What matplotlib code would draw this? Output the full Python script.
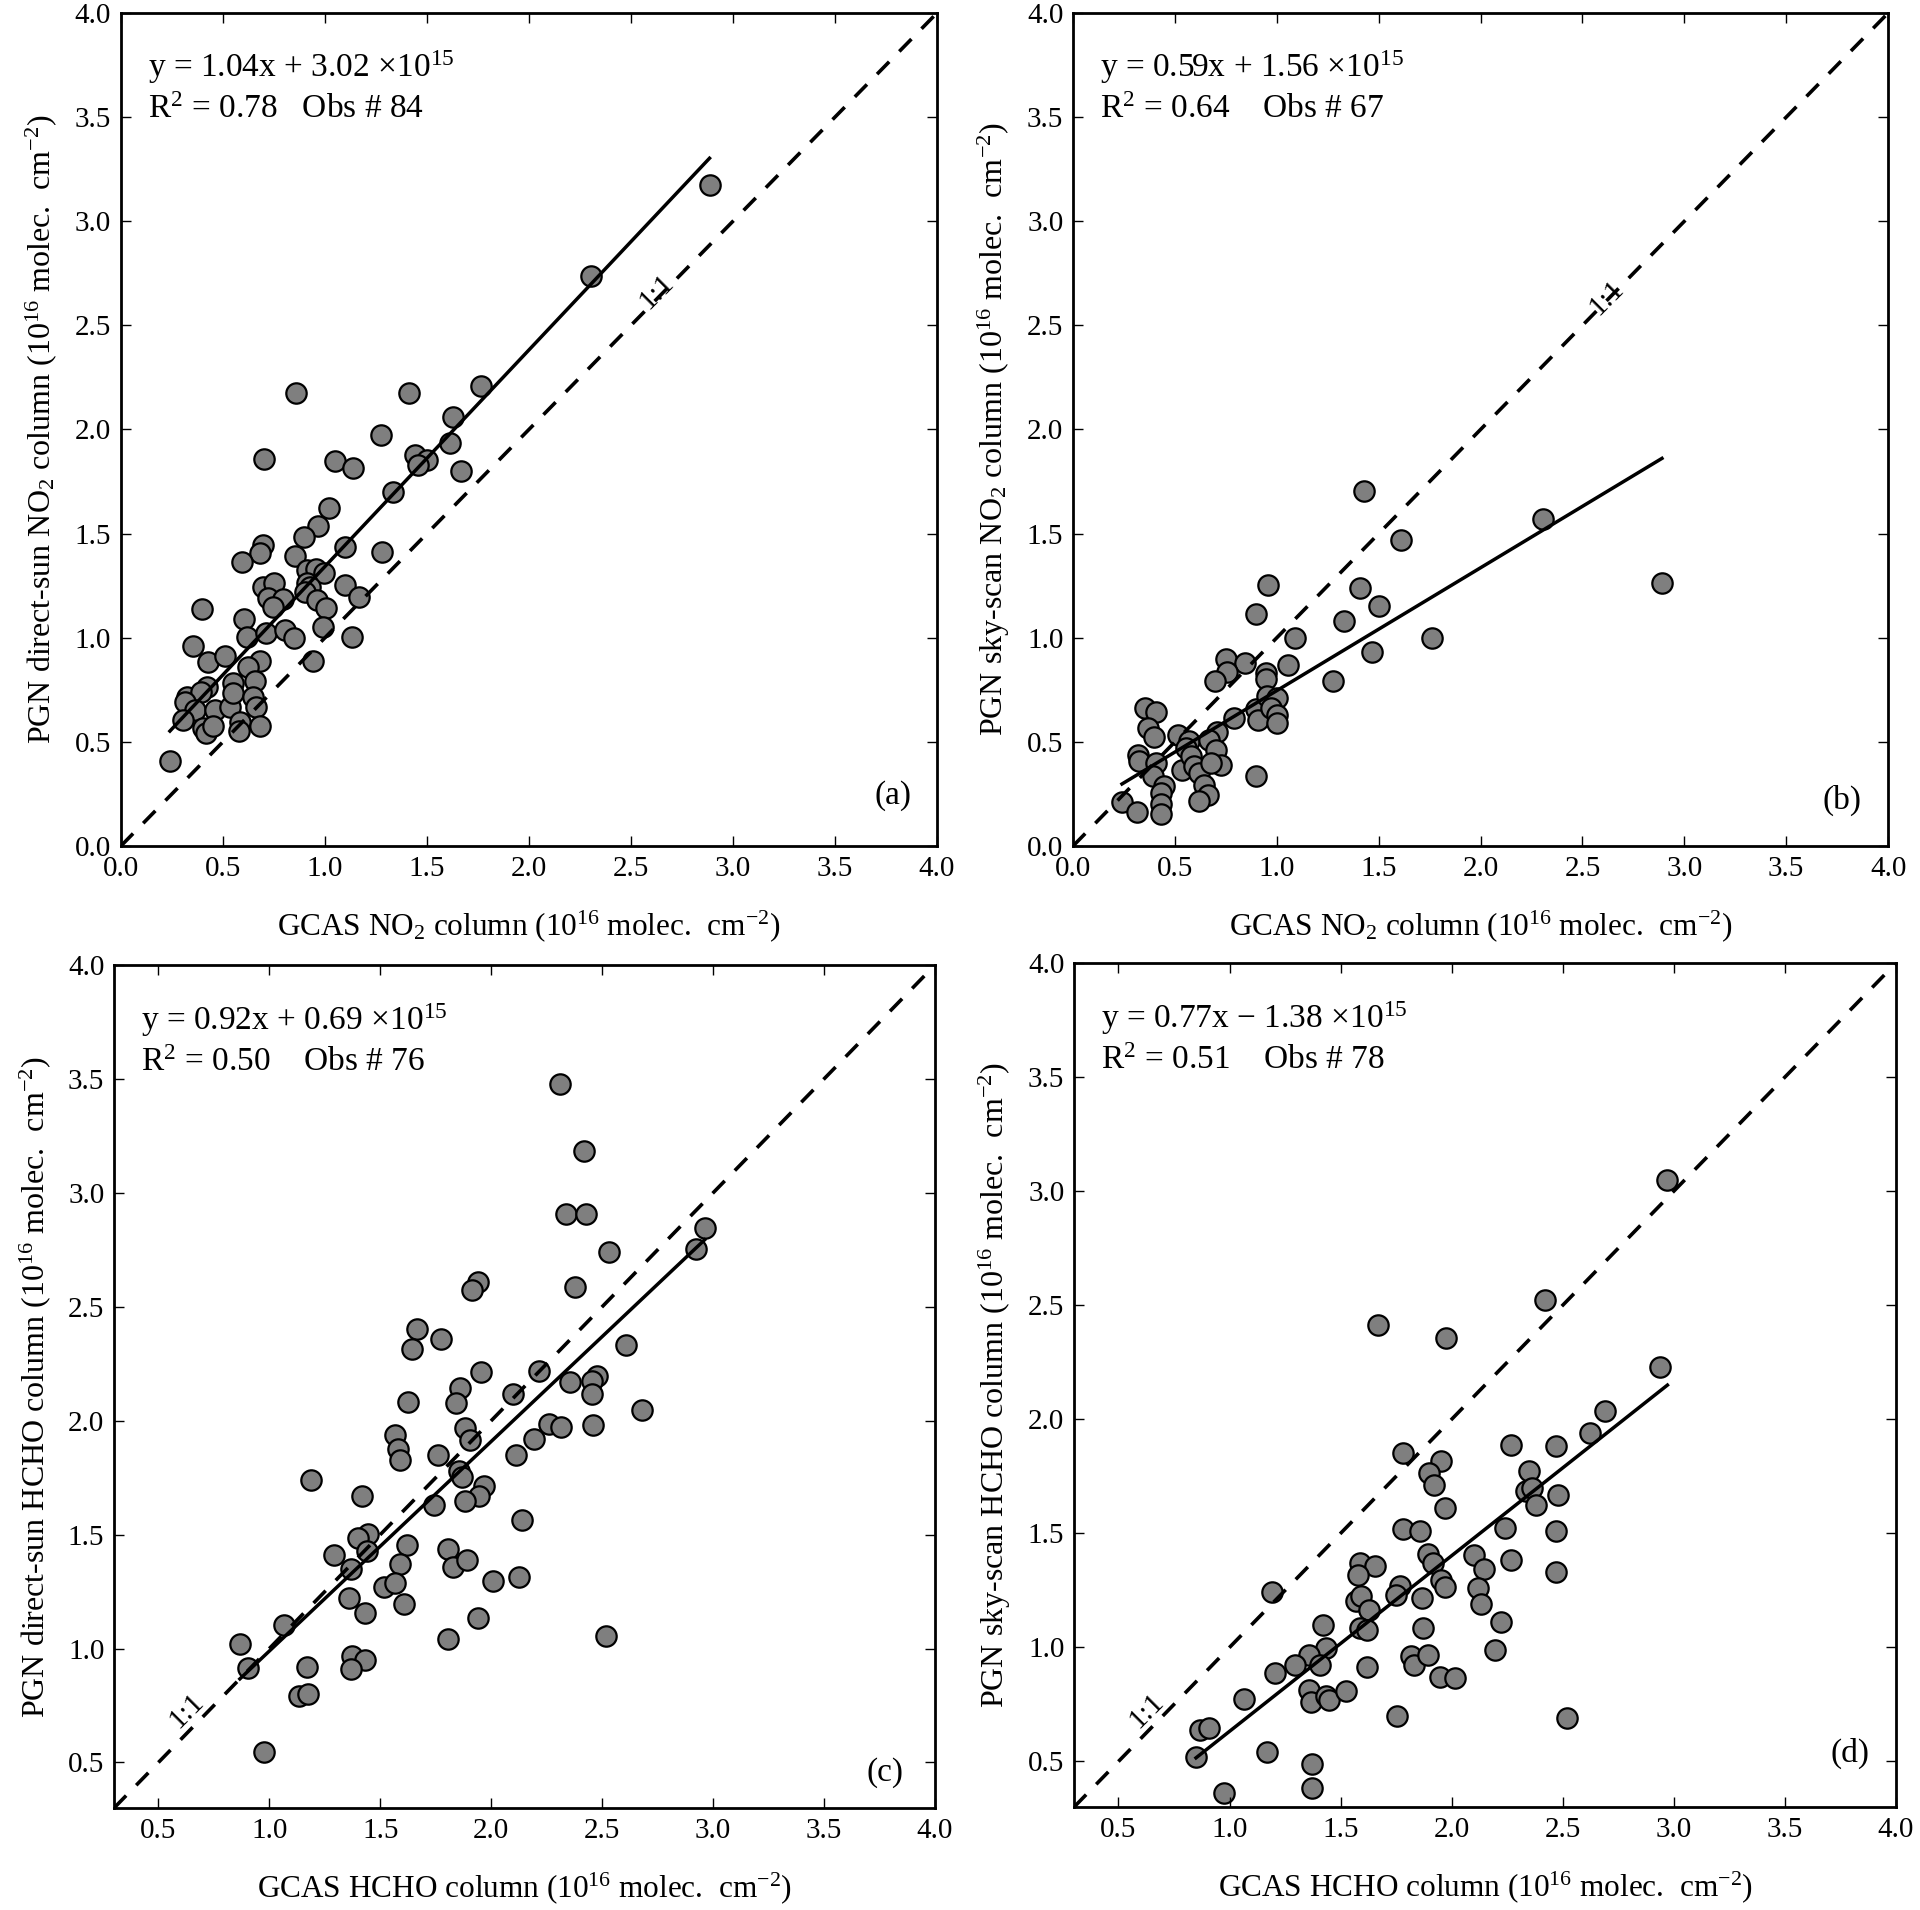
import matplotlib
matplotlib.use("Agg")
import matplotlib.pyplot as plt
import numpy as np

plt.rcParams["font.family"] = ["Liberation Serif", "DejaVu Serif"]
plt.rcParams["mathtext.fontset"] = "custom"
plt.rcParams["mathtext.rm"] = "Liberation Serif"
plt.rcParams["mathtext.it"] = "Liberation Serif:italic"
plt.rcParams["mathtext.bf"] = "Liberation Serif:bold"

# (a) GCAS vs PGN direct-sun NO2
a_gcas = [2.885, 2.302, 1.767, 0.857, 1.411, 1.629, 1.276, 1.614, 1.441, 1.500, 1.458, 1.668,
          0.699, 1.049, 1.136, 1.333, 1.019,
          0.967, 0.899, 0.698, 0.681, 0.592, 0.853, 1.098, 1.281, 0.910, 0.954, 0.995, 0.910,
          0.926, 0.902, 0.959, 1.005, 0.698, 0.750, 0.722, 0.796, 0.747, 1.098, 1.167, 0.399,
          0.603, 0.616, 0.711, 0.804, 0.848, 0.992, 1.134, 0.354, 0.428, 0.510, 0.681, 0.624,
          0.943, 0.551, 0.657, 0.423, 0.322, 0.391, 0.314, 0.363, 0.461, 0.534, 0.551, 0.645,
          0.662, 0.305, 0.403, 0.417, 0.452, 0.583, 0.580, 0.681, 0.240]
a_pgn = [3.172, 2.735, 2.211, 2.176, 2.176, 2.058, 1.974, 1.935, 1.877, 1.851, 1.827, 1.801,
         1.859, 1.847, 1.815, 1.698, 1.622,
         1.537, 1.482, 1.445, 1.405, 1.365, 1.393, 1.437, 1.410, 1.325, 1.328, 1.312, 1.261,
         1.245, 1.221, 1.181, 1.141, 1.245, 1.264, 1.192, 1.186, 1.149, 1.253, 1.194, 1.137,
         1.090, 1.002, 1.024, 1.037, 1.000, 1.053, 1.002, 0.960, 0.885, 0.912, 0.888, 0.861,
         0.890, 0.781, 0.792, 0.765, 0.717, 0.741, 0.693, 0.653, 0.653, 0.666, 0.733, 0.717,
         0.669, 0.605, 0.565, 0.541, 0.576, 0.597, 0.554, 0.576, 0.410]

# (b) GCAS vs PGN sky-scan NO2
b_gcas = [1.09, 0.899, 0.750, 0.845, 0.755, 0.698, 1.057, 0.949, 0.949, 1.275, 0.355, 0.407,
          0.366, 0.395, 0.516, 0.567, 0.554, 0.706, 0.668, 0.788, 0.900, 0.908, 0.954, 1.003,
          0.971, 1.003, 1.000, 0.701, 0.725, 0.320, 0.325, 0.407, 0.391, 0.448, 0.431, 0.431,
          0.431, 0.240, 0.314, 0.534, 0.578, 0.595, 0.619, 0.644, 0.660, 0.616, 0.900, 0.676,
          1.428, 1.610, 2.307, 2.890, 0.958, 1.410, 1.499, 1.332, 1.763, 1.467]
b_pgn = [1.00, 1.112, 0.896, 0.880, 0.835, 0.792, 0.867, 0.832, 0.803, 0.792, 0.664, 0.643,
         0.567, 0.524, 0.531, 0.503, 0.471, 0.547, 0.511, 0.616, 0.659, 0.607, 0.719, 0.711,
         0.664, 0.631, 0.592, 0.463, 0.387, 0.439, 0.407, 0.400, 0.335, 0.287, 0.255, 0.199,
         0.151, 0.212, 0.162, 0.367, 0.431, 0.383, 0.351, 0.295, 0.243, 0.218, 0.335, 0.400,
         1.703, 1.469, 1.569, 1.264, 1.252, 1.240, 1.150, 1.082, 0.997, 0.930]

# (c) GCAS vs PGN direct-sun HCHO
c_gcas = [2.310, 2.418, 2.338, 2.426, 2.962, 2.921, 2.530, 1.939, 1.912, 2.376, 1.667, 1.774,
          1.645, 2.605, 2.214, 1.953, 2.357, 2.475, 2.453, 2.453, 2.096, 1.859, 1.843, 1.623,
          2.679, 2.258, 2.316, 2.459, 1.881, 1.903, 2.192, 1.568, 1.579, 1.590, 1.758, 2.110,
          1.188, 1.854, 1.870, 1.967, 1.945, 1.881, 1.744, 1.417, 2.137, 1.444, 1.400, 1.441,
          1.620, 1.293, 1.367, 1.807, 1.826, 1.890, 1.587, 1.518, 1.568, 2.008, 2.126, 1.359,
          1.606, 1.430, 1.942, 1.065, 1.807, 2.517, 0.867, 1.373, 1.430, 1.367, 0.905, 1.169,
          1.133, 1.172, 0.974]
c_pgn = [3.477, 3.184, 2.905, 2.905, 2.846, 2.752, 2.739, 2.610, 2.572, 2.586, 2.403, 2.357,
         2.315, 2.333, 2.218, 2.213, 2.170, 2.196, 2.175, 2.116, 2.116, 2.143, 2.076, 2.081,
         2.046, 1.987, 1.974, 1.979, 1.966, 1.915, 1.920, 1.939, 1.874, 1.826, 1.848, 1.848,
         1.740, 1.778, 1.751, 1.711, 1.670, 1.646, 1.630, 1.670, 1.566, 1.504, 1.483, 1.429,
         1.456, 1.410, 1.351, 1.437, 1.356, 1.389, 1.370, 1.268, 1.289, 1.295, 1.316, 1.222,
         1.195, 1.155, 1.134, 1.101, 1.040, 1.053, 1.021, 0.967, 0.948, 0.908, 0.914, 0.919,
         0.793, 0.801, 0.546]

# (d) GCAS vs PGN sky-scan HCHO
d_gcas = [2.971, 2.422, 1.670, 1.974, 2.938, 2.688, 2.622, 2.265, 2.469, 1.782, 1.950, 1.900,
          2.348, 1.922, 2.334, 2.360, 2.381, 2.477, 1.969, 1.780, 1.859, 2.238, 2.469, 1.585,
          1.654, 1.576, 1.895, 1.917, 2.101, 2.147, 2.265, 2.469, 1.950, 1.969, 1.192, 1.571,
          1.593, 1.769, 1.749, 1.867, 2.120, 2.133, 1.626, 1.585, 1.618, 1.873, 2.221, 1.420,
          2.197, 1.434, 1.357, 1.406, 1.296, 1.620, 1.818, 1.832, 1.895, 1.947, 2.016, 1.206,
          1.066, 1.357, 1.365, 1.434, 1.448, 1.522, 1.752, 2.518, 0.865, 0.907, 0.849, 1.167,
          1.371, 1.371, 0.975]
d_pgn = [3.048, 2.521, 2.414, 2.358, 2.227, 2.037, 1.938, 1.885, 1.882, 1.853, 1.818, 1.765,
         1.773, 1.711, 1.684, 1.700, 1.626, 1.666, 1.612, 1.519, 1.508, 1.524, 1.511, 1.369,
         1.358, 1.318, 1.409, 1.372, 1.404, 1.345, 1.382, 1.332, 1.297, 1.265, 1.243, 1.203,
         1.225, 1.270, 1.230, 1.217, 1.262, 1.190, 1.163, 1.083, 1.075, 1.083, 1.110, 1.096,
         0.989, 0.997, 0.968, 0.922, 0.922, 0.914, 0.963, 0.922, 0.968, 0.869, 0.864, 0.888,
         0.775, 0.815, 0.762, 0.789, 0.770, 0.810, 0.701, 0.690, 0.636, 0.647, 0.521, 0.543,
         0.489, 0.382, 0.361]

# regression: slope, intercept (1e15 molec/cm2), R2, obs count
fit_slope = [1.04, 0.59, 0.92, 0.77]
fit_icpt = [3.02, 1.56, 0.69, -1.38]
fit_r2 = ["0.78", "0.64", "0.50", "0.51"]
fit_obs = [84, 67, 76, 78]

ylabels = [
    r"PGN direct-sun NO$_2$ column (10$^{16}$ molec.  cm$^{-2}$)",
    r"PGN sky-scan NO$_2$ column (10$^{16}$ molec.  cm$^{-2}$)",
    r"PGN direct-sun HCHO column (10$^{16}$ molec.  cm$^{-2}$)",
    r"PGN sky-scan HCHO column (10$^{16}$ molec.  cm$^{-2}$)",
]
xlabels = [
    r"GCAS NO$_2$ column (10$^{16}$ molec.  cm$^{-2}$)",
    r"GCAS NO$_2$ column (10$^{16}$ molec.  cm$^{-2}$)",
    r"GCAS HCHO column (10$^{16}$ molec.  cm$^{-2}$)",
    r"GCAS HCHO column (10$^{16}$ molec.  cm$^{-2}$)",
]
panel_tags = ["(a)", "(b)", "(c)", "(d)"]
axis_lo = [0.0, 0.0, 0.3, 0.3]
tick_vals = [np.arange(0, 4.01, 0.5), np.arange(0, 4.01, 0.5),
             np.arange(0.5, 4.01, 0.5), np.arange(0.5, 4.01, 0.5)]

xs = [a_gcas, b_gcas, c_gcas, d_gcas]
ys = [a_pgn, b_pgn, c_pgn, d_pgn]

# layout (figure fractions) and label placements
rects = [
    [0.0630, 0.5571, 0.4250, 0.4361],
    [0.5589, 0.5571, 0.4245, 0.4361],
    [0.0594, 0.0534, 0.4276, 0.4414],
    [0.5594, 0.0539, 0.4281, 0.4419],
]
tag_pos = [(0.969, 0.060), (0.967, 0.055), (0.961, 0.042), (0.968, 0.063)]
one_pos = [(2.626, 2.66), (2.62, 2.63), (0.625, 0.725), (0.625, 0.72)]
obs_gap = ["   ", "    ", "    ", "    "]

fig = plt.figure(figsize=(19.2, 19.1), dpi=100)

for i in range(4):
    ax = fig.add_axes(rects[i])
    lo = axis_lo[i]
    x = np.array(xs[i])
    y = np.array(ys[i])

    ax.scatter(x, y, s=215, facecolor="#7f7f7f", edgecolor="black", linewidth=1.6, zorder=1)

    # 1:1 line
    ax.plot([lo, 4.0], [lo, 4.0], color="black", lw=2.6, linestyle=(0, (4.8, 4.0)), zorder=2)
    # regression line over the data range
    xf = np.array([x.min(), x.max()])
    ax.plot(xf, fit_slope[i] * xf + fit_icpt[i] / 10.0, color="black", lw=2.5, zorder=2)

    ax.text(one_pos[i][0], one_pos[i][1], "1:1", rotation=45, rotation_mode="anchor",
            ha="center", va="center", fontsize=21)

    sign = "+" if fit_icpt[i] >= 0 else "\u2212"
    ax.text(0.033, 0.923,
            "y = %.2fx %s %.2f \u00d710$^{15}$" % (fit_slope[i], sign, abs(fit_icpt[i])),
            transform=ax.transAxes, fontsize=24, va="baseline", ha="left")
    ax.text(0.033, 0.874, "R$^2$ = %s%sObs # %d" % (fit_r2[i], obs_gap[i], fit_obs[i]),
            transform=ax.transAxes, fontsize=24, va="baseline", ha="left")

    ax.text(tag_pos[i][0], tag_pos[i][1], panel_tags[i], transform=ax.transAxes,
            fontsize=24, ha="right", va="center")

    ax.set_xlim(lo, 4.0)
    ax.set_ylim(lo, 4.0)
    ax.set_xticks(tick_vals[i])
    ax.set_yticks(tick_vals[i])
    ax.xaxis.set_major_formatter(matplotlib.ticker.FormatStrFormatter("%.1f"))
    ax.yaxis.set_major_formatter(matplotlib.ticker.FormatStrFormatter("%.1f"))
    ax.tick_params(direction="in", top=True, right=True, length=7.5, width=1.0,
                   labelsize=21)
    ax.tick_params(axis="x", pad=7)
    ax.tick_params(axis="y", pad=7)
    for sp in ax.spines.values():
        sp.set_linewidth(2.0)

    ax.set_xlabel(xlabels[i], fontsize=22.5, labelpad=19)
    ax.set_ylabel(ylabels[i], fontsize=23, labelpad=11)

fig.savefig("out.png", dpi=100, facecolor="white")
